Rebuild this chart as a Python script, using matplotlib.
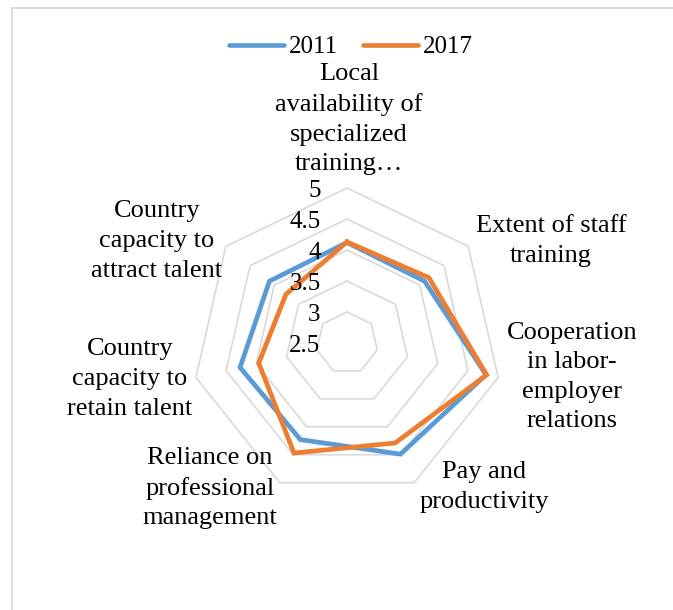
import numpy as np
import matplotlib
matplotlib.use("Agg")
import matplotlib.pyplot as plt
from matplotlib.lines import Line2D

plt.rcParams['font.family'] = ['Liberation Serif', 'DejaVu Serif']

categories = ["Local\navailability of\nspecialized\ntraining…",
              "Extent of staff\ntraining",
              "Cooperation\nin labor-\nemployer\nrelations",
              "Pay and\nproductivity",
              "Reliance on\nprofessional\nmanagement",
              "Country\ncapacity to\nretain talent",
              "Country\ncapacity to\nattract talent"]
series_2011 = [4.12, 4.10, 4.80, 4.49, 4.23, 4.27, 4.10]
series_2017 = [4.13, 4.19, 4.81, 4.29, 4.47, 3.96, 3.76]
tick_values = [2.5, 3, 3.5, 4, 4.5, 5]
tick_labels = ["2.5", "3", "3.5", "4", "4.5", "5"]
years = ["2011", "2017"]

colors = ['#5B9BD5', '#ED7D31']
grid_color = '#D9D9D9'

W, H = 673, 610
fig = plt.figure(figsize=(W / 100, H / 100), dpi=100)

cx, cy, R = 347, 343, 155
ax = fig.add_axes([(cx - R) / W, 1 - (cy + R) / H, 2 * R / W, 2 * R / H], projection='polar')
ax.set_theta_offset(np.pi / 2)
ax.set_theta_direction(-1)
ax.set_ylim(tick_values[0], tick_values[-1])
ax.axis('off')

n = len(categories)
theta = np.arange(n) * 2 * np.pi / n
closed = np.append(theta, theta[0])

for v in tick_values[1:]:
    ax.plot(closed, [v] * (n + 1), color=grid_color, lw=1.2, zorder=1, clip_on=False)

for vals, c in zip([series_2011, series_2017], colors):
    ax.plot(closed, list(vals) + [vals[0]], color=c, lw=3.4, zorder=3,
            solid_joinstyle='miter', clip_on=False)

for v, lab in zip(tick_values, tick_labels):
    ax.annotate(lab, xy=(0, v), xytext=(-19, -2), textcoords='offset points',
                ha='right', va='center', fontsize=18, color='#000000',
                annotation_clip=False)

label_pos = [(349, 119), (551, 241), (572, 377), (484, 487),
             (210, 488), (130, 379), (157, 241)]
for lab, (x, y) in zip(categories, label_pos):
    fig.text(x / W, 1 - y / H, lab, ha='center', va='center', fontsize=19,
             linespacing=1.45, color='#000000')

handles = [Line2D([0], [0], color=c, lw=3.3, solid_capstyle='round') for c in colors]
fig.legend(handles, years, loc='center', bbox_to_anchor=(351 / W, 1 - 47 / H),
           ncol=2, frameon=False, fontsize=18, handlelength=2.2,
           handletextpad=0.2, columnspacing=1.0)

# chart frame
fig.add_artist(Line2D([12 / W, 12 / W], [0, 1 - 8 / H], color=grid_color, lw=1.3))
fig.add_artist(Line2D([12 / W, 1], [1 - 8 / H, 1 - 8 / H], color=grid_color, lw=1.3))

fig.savefig('out.png', dpi=100, facecolor='white')
